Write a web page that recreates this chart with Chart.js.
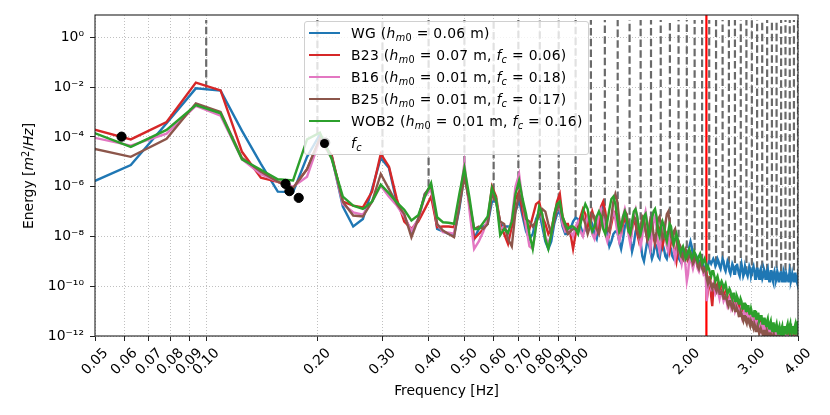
<!DOCTYPE html>
<html>
<head>
<meta charset="utf-8">
<script src="https://cdn.jsdelivr.net/npm/chart.js@4.4.1/dist/chart.umd.min.js"></script>
<style>
  body { margin: 0; background: #fff; }
  #wrap { position: relative; width: 830px; height: 415px; font-family: "DejaVu Sans", sans-serif; color: #000; }
  #ylabel { position: absolute; left: 28px; top: 176px; transform: translate(-50%, -50%) rotate(-90deg); font-size: 13.9px; white-space: nowrap; }
  #legend { position: absolute; left: 304px; top: 21px; width: 283px; height: 132px; background: rgba(255,255,255,0.8);
            border: 1px solid #d0d0d0; border-radius: 3px; font-size: 13.9px; }
  .row { display: flex; align-items: center; height: 22px; }
  .swatch { width: 31px; margin-left: 4px; height: 2px; position: relative; }
  .dot { position: absolute; left: 11px; top: -3.5px; width: 9px; height: 9px; border-radius: 50%; background: #000; }
  .txt { margin-left: 11px; white-space: nowrap; letter-spacing: 0.3px; }
  sub { font-size: 0.7em; vertical-align: -0.3em; line-height: 0; }
  sup { font-size: 0.7em; vertical-align: 0.45em; line-height: 0; }
</style>
</head>
<body>
<div id="wrap">
  <canvas id="spectrum" width="830" height="415"></canvas>
  <div id="ylabel">Energy [<i>m</i><sup>2</sup>/<i>Hz</i>]</div>
  <div id="legend"></div>
</div>
<script>
// spectral bins: f = k * df, first bin k = 3
const df = 1 / 64;
const firstBin = 3;

// log10 of energy density [m^2/Hz], one value per bin (k = 3 .. 256)
const wgLog = [
  -5.95,-5.13,-3.45,-2.05,-2.14,-3.76,-5.08,-6.2,-6.22,-4.8,-3.9,-4.8,-6.8,-7.6,
  -7.3,-6.1,-4.85,-5.25,-6.65,-7.2,-7.8,-7.3,-6.3,-6.0,-7.7,-7.8,-7.9,-7.95,-6.9,-5.5,
  -6.6,-8.1,-7.7,-7.6,-7.5,-6.6,-6.6,-7.5,-7.6,-7.6,-7.6,-7.0,-6.55,-7.2,-7.8,-8.1,
  -7.9,-7.3,-7.0,-7.6,-8.2,-8.5,-8.2,-7.5,-7.1,-7.0,-7.6,-7.9,-7.9,-7.7,-7.4,-7.25,
  -7.3,-7.6,-7.9,-7.7,-7.4,-7.3,-7.5,-7.9,-8.1,-7.6,-6.9,-6.7,-7.2,-7.9,-8.4,-8.2,
  -7.9,-7.8,-7.8,-8.2,-8.5,-8.1,-7.6,-7.4,-7.5,-8.0,-8.6,-8.3,-7.8,-7.6,-7.7,-8.2,
  -8.8,-9.0,-8.6,-8.2,-8.3,-8.6,-8.9,-8.7,-8.3,-8.4,-8.8,-8.9,-8.5,-8.3,-8.5,-8.8,
  -8.9,-8.6,-8.4,-8.5,-8.8,-8.9,-8.7,-8.5,-8.6,-8.9,-9.0,-8.8,-8.6,-8.7,-8.9,-8.9,
  -8.7,-8.4,-8.2,-8.4,-8.8,-9.0,-8.9,-8.8,-8.9,-9.1,-9.0,-8.9,-9.0,-9.2,-9.3,-9.2,
  -9.3,-9.2,-9.0,-9.0,-9.1,-9.0,-8.9,-9.0,-9.2,-9.1,-8.9,-9.0,-9.2,-9.3,-9.1,-8.9,
  -9.0,-9.3,-9.4,-9.2,-9.0,-9.1,-9.4,-9.5,-9.3,-9.1,-9.2,-9.5,-9.5,-9.2,-9.1,-9.3,
  -9.5,-9.6,-9.3,-9.1,-9.3,-9.6,-9.5,-9.2,-9.2,-9.5,-9.6,-9.4,-9.2,-9.3,-9.6,-9.6,
  -9.3,-9.2,-9.4,-9.7,-9.6,-9.3,-9.3,-9.6,-9.7,-9.4,-9.3,-9.5,-9.7,-9.6,-9.3,-9.4,
  -9.7,-9.7,-9.4,-9.3,-9.6,-9.8,-9.6,-9.4,-9.4,-9.7,-9.8,-9.5,-9.4,-9.6,-9.8,-9.7,
  -9.4,-9.5,-9.8,-9.8,-9.5,-9.4,-9.6,-9.8,-9.7,-9.4,-9.5,-9.8,-9.8,-9.5,-9.5,-9.7,
  -9.8,-9.6,-9.4,-9.6,-9.8,-9.7,-9.5,-9.5,-9.8,-9.8,-9.5,-9.5,-9.7,-9.8,-9.6,-9.6
];
const b23Log = [
  -3.6,-4.1,-3.4,-1.82,-2.13,-4.6,-5.64,-5.81,-6.05,-5.3,-4.1,-4.75,-6.6,-6.76,
  -6.83,-6.2,-4.68,-5.2,-6.5,-7.4,-7.69,-7.4,-6.9,-6.4,-7.63,-7.6,-7.6,-7.63,-6.6,-5.36,
  -6.7,-8.1,-7.9,-7.7,-7.4,-6.0,-6.4,-7.5,-7.9,-8.3,-7.6,-6.5,-6.2,-7.0,-7.6,-7.7,
  -7.2,-6.7,-6.6,-7.2,-7.5,-7.9,-7.7,-7.2,-6.6,-6.3,-7.2,-7.5,-7.5,-7.9,-8.5,-7.9,
  -7.6,-7.2,-6.9,-7.1,-7.6,-7.4,-7.0,-7.3,-7.8,-7.5,-6.8,-6.6,-7.0,-7.6,-7.9,-7.5,
  -7.1,-7.0,-7.3,-7.8,-7.9,-7.5,-7.3,-7.4,-7.8,-8.1,-7.7,-7.4,-7.5,-7.9,-8.2,-7.9,
  -7.5,-7.4,-7.7,-8.1,-7.9,-7.5,-7.6,-8.0,-8.3,-8.0,-7.6,-7.7,-8.1,-8.4,-8.1,-7.8,
  -7.9,-8.3,-8.6,-8.2,-8.0,-8.2,-8.7,-9.0,-8.6,-8.3,-8.5,-8.8,-8.9,-8.6,-8.6,-8.9,
  -9.0,-8.8,-8.7,-8.9,-9.1,-9.0,-8.8,-8.9,-9.2,-9.3,-9.1,-9.0,-9.2,-9.4,-9.3,-9.3,
  -9.6,-10.2,-9.9,-9.6,-10.4,-10.8,-10.2,-9.9,-10.1,-10.0,-9.9,-10.2,-10.3,-10.1,-10.0,-10.2,
  -10.4,-10.3,-10.2,-10.4,-10.6,-10.5,-10.4,-10.5,-10.7,-10.7,-10.5,-10.6,-10.8,-10.8,-10.6,-10.7,
  -10.9,-10.9,-10.7,-10.8,-11.0,-11.0,-10.9,-10.9,-11.1,-11.1,-11.0,-11.0,-11.2,-11.2,-11.1,-11.2,
  -11.3,-11.3,-11.2,-11.3,-11.4,-11.4,-11.3,-11.3,-11.5,-11.5,-11.4,-11.4,-11.6,-11.6,-11.5,-11.5,
  -11.6,-11.7,-11.6,-11.6,-11.7,-11.8,-11.7,-11.6,-11.8,-11.8,-11.7,-11.7,-11.8,-11.9,-11.8,-11.7,
  -11.8,-11.9,-11.8,-11.8,-11.9,-12.0,-11.9,-11.8,-11.9,-12.0,-11.9,-11.9,-12.0,-12.0,-11.9,-11.9,
  -12.0,-12.0,-11.9,-11.9,-12.0,-12.1,-12.0,-11.9,-12.0,-12.1,-12.0,-11.9,-12.0,-12.1,-12.0,-11.9
];
const b16Log = [
  -3.95,-4.35,-3.87,-2.75,-3.15,-4.9,-5.5,-5.8,-6.0,-5.6,-4.1,-4.85,-6.7,-7.03,
  -7.12,-6.6,-5.96,-6.4,-6.76,-7.2,-7.76,-7.3,-6.4,-6.1,-7.5,-7.83,-7.85,-7.89,-6.6,-5.05,
  -6.9,-8.5,-8.2,-7.8,-7.3,-6.2,-6.5,-7.7,-7.6,-7.9,-7.3,-6.0,-5.5,-6.6,-7.6,-8.4,
  -8.5,-7.6,-6.9,-7.3,-8.0,-8.3,-7.9,-7.2,-6.9,-6.8,-7.5,-7.8,-7.7,-7.8,-8.0,-7.6,
  -7.4,-7.8,-8.0,-7.6,-7.2,-7.4,-7.9,-8.1,-7.7,-7.1,-6.9,-7.3,-7.9,-8.2,-7.8,-7.3,
  -7.0,-7.3,-7.8,-8.2,-7.9,-7.2,-6.9,-7.2,-7.9,-8.3,-7.8,-7.1,-6.9,-7.3,-8.0,-8.4,
  -8.0,-7.3,-7.0,-7.4,-8.1,-8.5,-8.0,-7.4,-7.2,-7.6,-8.3,-8.6,-8.1,-7.6,-7.5,-7.9,
  -8.4,-8.6,-8.1,-7.8,-7.9,-8.5,-8.9,-8.6,-8.3,-8.4,-8.8,-9.1,-8.8,-8.7,-9.2,-9.8,
  -9.5,-8.9,-8.8,-9.1,-9.3,-9.1,-8.9,-9.0,-9.3,-9.4,-9.2,-9.1,-9.3,-9.5,-9.4,-9.6,
  -10.6,-10.0,-9.8,-9.9,-10.1,-10.0,-9.9,-10.1,-10.3,-10.2,-10.1,-10.3,-10.5,-10.3,-10.2,-10.4,
  -10.6,-10.5,-10.4,-10.6,-10.8,-10.7,-10.5,-10.6,-10.9,-10.8,-10.6,-10.7,-11.0,-10.9,-10.8,-10.9,
  -11.1,-11.0,-10.9,-11.1,-11.3,-11.2,-11.0,-11.1,-11.3,-11.3,-11.1,-11.2,-11.4,-11.4,-11.2,-11.3,
  -11.5,-11.4,-11.3,-11.4,-11.6,-11.6,-11.4,-11.4,-11.6,-11.7,-11.5,-11.5,-11.7,-11.8,-11.6,-11.6,
  -11.8,-11.8,-11.6,-11.7,-11.9,-11.9,-11.7,-11.7,-11.9,-12.0,-11.8,-11.8,-12.0,-12.0,-11.8,-11.8,
  -12.0,-12.1,-11.9,-11.9,-12.1,-12.1,-11.9,-11.9,-12.1,-12.2,-12.0,-11.9,-12.1,-12.2,-12.0,-12.0,
  -12.2,-12.2,-12.0,-12.0,-12.2,-12.2,-12.0,-12.0,-12.2,-12.3,-12.1,-12.0,-12.2,-12.3,-12.1,-12.1
];
const b25Log = [
  -4.4,-4.8,-4.08,-2.65,-3.0,-4.85,-5.4,-5.8,-6.05,-5.3,-4.05,-4.8,-6.6,-7.16,
  -7.2,-6.6,-5.49,-6.1,-6.69,-7.1,-8.03,-7.3,-6.3,-5.95,-7.5,-7.76,-7.9,-8.03,-6.8,-5.6,
  -6.6,-7.7,-7.6,-7.7,-7.5,-6.3,-6.6,-7.4,-7.5,-8.1,-8.4,-7.0,-6.3,-6.7,-7.3,-7.4,
  -7.6,-7.4,-7.2,-6.9,-7.0,-7.5,-7.9,-7.4,-6.9,-6.7,-7.3,-7.6,-7.9,-7.8,-7.7,-7.7,
  -7.7,-7.4,-7.2,-7.5,-7.9,-7.6,-7.1,-7.2,-7.7,-7.9,-7.5,-7.0,-7.2,-7.7,-7.8,-7.2,
  -6.6,-6.3,-6.6,-7.3,-7.7,-7.4,-7.0,-7.1,-7.6,-7.9,-7.6,-7.2,-7.3,-7.8,-8.0,-7.6,
  -7.2,-7.3,-7.8,-8.1,-7.7,-7.3,-7.4,-7.9,-8.2,-7.8,-7.3,-7.2,-7.6,-8.1,-8.0,-7.5,
  -7.1,-7.0,-7.4,-8.0,-8.2,-7.8,-7.7,-8.1,-8.5,-8.3,-8.4,-8.8,-8.9,-8.6,-8.5,-8.7,
  -8.9,-8.8,-8.7,-8.9,-9.1,-9.0,-8.8,-8.9,-9.2,-9.3,-9.1,-9.0,-9.3,-9.4,-9.3,-9.4,
  -9.7,-9.9,-9.7,-9.8,-10.0,-10.1,-9.9,-9.9,-10.1,-10.2,-10.0,-10.1,-10.3,-10.3,-10.2,-10.3,
  -10.5,-10.5,-10.4,-10.5,-10.7,-10.8,-10.6,-10.6,-10.8,-10.9,-10.7,-10.8,-11.0,-11.0,-10.9,-11.0,
  -11.2,-11.2,-11.0,-11.1,-11.3,-11.4,-11.2,-11.2,-11.4,-11.5,-11.3,-11.3,-11.5,-11.6,-11.4,-11.5,
  -11.6,-11.7,-11.5,-11.6,-11.8,-11.8,-11.6,-11.7,-11.9,-11.9,-11.7,-11.8,-11.9,-12.0,-11.8,-11.8,
  -12.0,-12.0,-11.8,-11.9,-12.1,-12.1,-11.9,-11.9,-12.1,-12.2,-12.0,-11.9,-12.1,-12.2,-12.0,-12.0,
  -12.2,-12.2,-12.0,-12.0,-12.2,-12.3,-12.1,-12.0,-12.2,-12.3,-12.1,-12.0,-12.2,-12.3,-12.1,-12.1,
  -12.3,-12.3,-12.1,-12.1,-12.3,-12.3,-12.1,-12.1,-12.3,-12.4,-12.2,-12.1,-12.3,-12.4,-12.2,-12.2
];
const wob2Log = [
  -3.7,-4.4,-3.72,-2.72,-3.05,-4.9,-5.32,-5.7,-5.75,-4.1,-3.83,-4.9,-6.4,-6.76,
  -6.89,-6.6,-5.92,-6.27,-6.63,-6.93,-7.36,-7.15,-6.4,-5.85,-7.23,-7.43,-7.45,-7.49,-6.3,-5.25,
  -6.4,-7.7,-7.7,-7.45,-7.2,-6.05,-6.5,-7.95,-7.7,-7.85,-7.4,-6.3,-5.75,-6.5,-7.1,-7.9,
  -8.5,-7.6,-6.8,-7.1,-8.1,-8.5,-7.9,-7.1,-6.7,-6.6,-7.2,-7.5,-7.7,-7.6,-7.6,-7.7,
  -7.9,-7.5,-7.0,-6.7,-6.9,-7.5,-7.8,-7.6,-7.2,-7.0,-7.2,-7.7,-7.9,-7.4,-6.9,-6.5,
  -6.4,-6.7,-7.3,-7.8,-7.6,-7.2,-7.0,-7.3,-7.8,-7.9,-7.4,-7.0,-6.9,-7.2,-7.7,-7.9,
  -7.6,-7.2,-7.1,-7.5,-8.0,-7.8,-7.3,-7.0,-6.9,-7.2,-7.8,-8.0,-7.6,-7.4,-7.6,-8.0,
  -8.2,-7.8,-7.5,-7.6,-8.0,-8.3,-8.1,-7.9,-8.1,-8.5,-8.7,-8.5,-8.4,-8.6,-8.9,-8.8,
  -8.6,-8.5,-8.7,-8.9,-8.8,-8.6,-8.7,-8.9,-9.0,-8.8,-8.7,-8.9,-9.1,-9.0,-8.9,-9.1,
  -9.3,-9.2,-9.3,-9.5,-9.6,-9.4,-9.4,-9.6,-9.8,-9.7,-9.6,-9.8,-10.0,-9.9,-9.8,-9.9,
  -10.1,-10.0,-9.9,-10.1,-10.3,-10.2,-10.1,-10.2,-10.4,-10.5,-10.3,-10.3,-10.6,-10.6,-10.4,-10.5,
  -10.7,-10.7,-10.5,-10.6,-10.9,-10.9,-10.7,-10.7,-11.0,-11.0,-10.8,-10.8,-11.1,-11.1,-10.9,-10.9,
  -11.2,-11.2,-11.0,-11.0,-11.3,-11.3,-11.1,-11.1,-11.4,-11.4,-11.2,-11.2,-11.5,-11.5,-11.3,-11.3,
  -11.5,-11.6,-11.4,-11.3,-11.6,-11.7,-11.5,-11.4,-11.7,-11.8,-11.5,-11.5,-11.8,-11.8,-11.6,-11.5,
  -11.7,-11.9,-11.7,-11.6,-11.8,-11.9,-11.7,-11.6,-11.9,-12.0,-11.7,-11.6,-11.8,-11.9,-11.6,-11.5,
  -11.7,-11.8,-11.6,-11.5,-11.8,-11.9,-11.7,-11.6,-11.8,-11.9,-11.6,-11.5,-11.7,-11.8,-11.5,-11.4
];

const seriesNames = ['WG', 'B23', 'B16', 'B25', 'WOB2'];
const seriesHm0 = [0.06, 0.07, 0.01, 0.01, 0.01];
const seriesFc = [null, 0.06, 0.18, 0.17, 0.16];
const seriesColors = ['#1f77b4', '#d62728', '#e377c2', '#8c564b', '#2ca02c'];

// cut-off frequency markers (Hz) and their energy (log10)
const fcFreq = [0.059, 0.164, 0.168, 0.178, 0.210];
const fcLog = [-3.99, -5.89, -6.18, -6.45, -4.23];

// harmonics of the 0.1 Hz peak, dashed from the WG spectrum up
const harmonicFreq = [0.1,0.2,0.3,0.4,0.5,0.6,0.7,0.8,0.9,1.0,1.1,1.2,1.3,1.4,1.5,1.6,1.7,1.8,1.9,2.0,
                      2.1,2.2,2.3,2.4,2.5,2.6,2.7,2.8,2.9,3.0,3.1,3.2,3.3,3.4,3.5,3.6,3.7,3.8,3.9,4.0];
const harmonicTop = 5;
const redLineFreq = 2.26;

const xTicks = [0.05,0.06,0.07,0.08,0.09,0.10,0.20,0.30,0.40,0.50,0.60,0.70,0.80,0.90,1.00,2.00,3.00,4.00];
const yTicks = [1e-12,1e-10,1e-8,1e-6,1e-4,1e-2,1];
const yMin = 1e-12, yMax = 7.9;

function toPoints(logs) {
  return logs.map((v, i) => ({ x: (i + firstBin) * df, y: Math.pow(10, v) }));
}
const allLogs = [wgLog, b23Log, b16Log, b25Log, wob2Log];

const harmonicPts = [];
harmonicFreq.forEach(f => {
  const low = Math.pow(10, wgLog[Math.round(f / df) - firstBin]);
  harmonicPts.push({ x: f, y: low }, { x: f, y: harmonicTop }, { x: f, y: null });
});

const datasets = [];
datasets.push({ data: harmonicPts, borderColor: '#6a6a6a', borderWidth: 2.2, borderDash: [7.5, 3.3], pointRadius: 0, spanGaps: false });
datasets.push({ data: [{ x: redLineFreq, y: yMin }, { x: redLineFreq, y: yMax }], borderColor: '#ff0000', borderWidth: 2.2, pointRadius: 0 });
allLogs.forEach((logs, i) => {
  datasets.push({ label: seriesNames[i], data: toPoints(logs), borderColor: seriesColors[i], borderWidth: 2.4, pointRadius: 0, tension: 0 });
});
datasets.push({ type: 'scatter', data: fcFreq.map((f, i) => ({ x: f, y: Math.pow(10, fcLog[i]) })),
  backgroundColor: '#000', borderColor: '#000', pointRadius: 4.6, showLine: false });
// later datasets drawn on top
datasets.forEach((d, i) => { d.order = datasets.length - i; d.fill = false; });

const supMap = { '-': '\u207b', '0': '\u2070', '1': '\u00b9', '2': '\u00b2', '3': '\u00b3', '4': '\u2074',
                 '5': '\u2075', '6': '\u2076', '7': '\u2077', '8': '\u2078', '9': '\u2079' };
function sup(n) { return String(n).split('').map(c => supMap[c]).join(''); }

const frame = {
  id: 'frame',
  afterDatasetsDraw(chart) {
    const { ctx, chartArea: a } = chart;
    ctx.save();
    ctx.strokeStyle = '#222';
    ctx.lineWidth = 1.1;
    ctx.strokeRect(a.left, a.top, a.right - a.left, a.bottom - a.top);
    ctx.restore();
  }
};

Chart.defaults.font.family = '"DejaVu Sans", sans-serif';
Chart.defaults.font.size = 13.9;
Chart.defaults.color = '#000';

const gridOpts = { color: '#b0b0b0', lineWidth: 0.8, tickColor: '#222', tickLength: 5, tickWidth: 1 };

new Chart(document.getElementById('spectrum').getContext('2d'), {
  type: 'line',
  data: { datasets: datasets },
  options: {
    responsive: false,
    animation: false,
    layout: { padding: { top: 15, right: 32, left: 0, bottom: 0 } },
    plugins: { legend: { display: false }, tooltip: { enabled: false } },
    scales: {
      x: {
        type: 'logarithmic', min: 0.05, max: 4,
        afterBuildTicks: s => { s.ticks = xTicks.map(v => ({ value: v })); },
        afterFit: s => { s.height = 79; },
        ticks: { autoSkip: false, maxRotation: 45, minRotation: 45, padding: 4, labelOffset: 11,
                 callback: v => Number(v).toFixed(2) },
        grid: gridOpts,
        border: { display: false, dash: [1, 2] },
        title: { display: true, text: 'Frequency [Hz]', padding: { top: 0, bottom: 15.5 } }
      },
      y: {
        type: 'logarithmic', min: yMin, max: yMax,
        afterBuildTicks: s => { s.ticks = yTicks.map(v => ({ value: v })); },
        afterFit: s => { s.width = 95; },
        ticks: { padding: 6, callback: v => '10' + sup(Math.round(Math.log10(v))) },
        grid: gridOpts,
        border: { display: false, dash: [1, 2] }
      }
    }
  },
  plugins: [frame]
});

// legend with italic subscripts as HTML text
const legend = document.getElementById('legend');
seriesNames.forEach((name, i) => {
  let label = name + ' (<i>h</i><sub><i>m</i>0</sub> = ' + seriesHm0[i].toFixed(2) + ' m';
  if (seriesFc[i] !== null) label += ', <i>f</i><sub><i>c</i></sub> = ' + seriesFc[i].toFixed(2);
  label += ')';
  legend.insertAdjacentHTML('beforeend',
    '<div class="row"><span class="swatch" style="background:' + seriesColors[i] + '"></span><span class="txt">' + label + '</span></div>');
});
legend.insertAdjacentHTML('beforeend',
  '<div class="row"><span class="swatch"><span class="dot"></span></span><span class="txt"><i>f</i><sub><i>c</i></sub></span></div>');
</script>
</body>
</html>
